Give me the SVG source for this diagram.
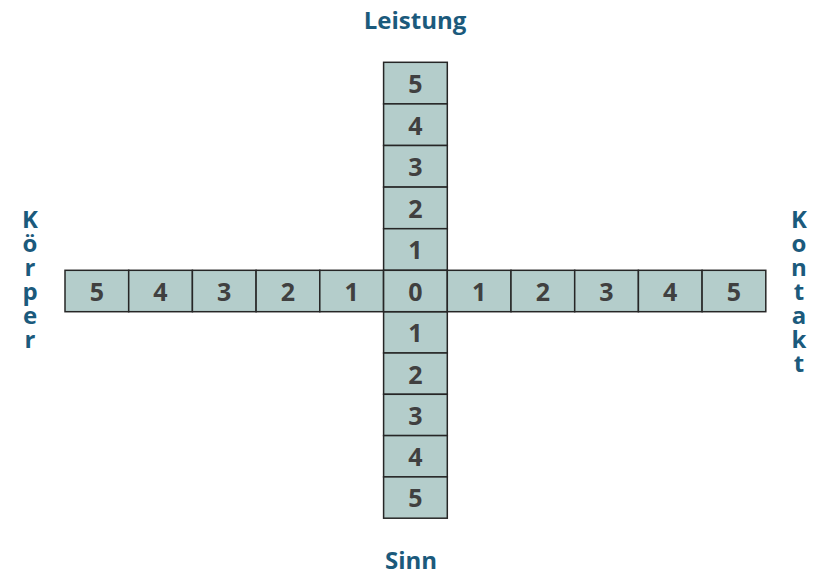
<svg xmlns="http://www.w3.org/2000/svg" width="819" height="574" viewBox="0 0 819 574">
<style>
.c{fill:#b4cdcb;stroke:#262626;stroke-width:1.5}
.n{font-family:"Open Sans","Liberation Sans",sans-serif;font-weight:bold;font-size:25px;fill:#404040;text-anchor:middle}
.l{font-family:"Open Sans","Liberation Sans",sans-serif;font-weight:bold;font-size:24px;fill:#1b5a7c;text-anchor:middle}
</style>
<rect width="819" height="574" fill="#fff"/>
<g id="vertical">
<rect class="c" x="383.6" y="62.3" width="63.7" height="41.6"/><text class="n" x="415.5" y="93">5</text>
<rect class="c" x="383.6" y="103.9" width="63.7" height="41.6"/><text class="n" x="415.5" y="135">4</text>
<rect class="c" x="383.6" y="145.5" width="63.7" height="41.6"/><text class="n" x="415.5" y="176">3</text>
<rect class="c" x="383.6" y="187.1" width="63.7" height="41.6"/><text class="n" x="415.5" y="218">2</text>
<rect class="c" x="383.6" y="228.7" width="63.7" height="41.6"/><text class="n" x="415.5" y="259">1</text>
<rect class="c" x="383.6" y="311.7" width="63.7" height="41.3"/><text class="n" x="415.5" y="342">1</text>
<rect class="c" x="383.6" y="353" width="63.7" height="41.3"/><text class="n" x="415.5" y="384">2</text>
<rect class="c" x="383.6" y="394.3" width="63.7" height="41.3"/><text class="n" x="415.5" y="425">3</text>
<rect class="c" x="383.6" y="435.6" width="63.7" height="41.3"/><text class="n" x="415.5" y="466">4</text>
<rect class="c" x="383.6" y="476.9" width="63.7" height="41.3"/><text class="n" x="415.5" y="507">5</text>
</g>
<g id="horizontal">
<rect class="c" x="65" y="270.3" width="63.7" height="41.4"/><text class="n" x="96.8" y="301">5</text>
<rect class="c" x="128.7" y="270.3" width="63.7" height="41.4"/><text class="n" x="160.5" y="301">4</text>
<rect class="c" x="192.4" y="270.3" width="63.7" height="41.4"/><text class="n" x="224.2" y="301">3</text>
<rect class="c" x="256.1" y="270.3" width="63.7" height="41.4"/><text class="n" x="287.9" y="301">2</text>
<rect class="c" x="319.8" y="270.3" width="63.7" height="41.4"/><text class="n" x="351.6" y="301">1</text>
<rect class="c" x="383.6" y="270.3" width="63.7" height="41.4"/><text class="n" x="415.5" y="301">0</text>
<rect class="c" x="447.3" y="270.3" width="63.7" height="41.4"/><text class="n" x="479.1" y="301">1</text>
<rect class="c" x="511" y="270.3" width="63.7" height="41.4"/><text class="n" x="542.8" y="301">2</text>
<rect class="c" x="574.7" y="270.3" width="63.7" height="41.4"/><text class="n" x="606.5" y="301">3</text>
<rect class="c" x="638.4" y="270.3" width="63.7" height="41.4"/><text class="n" x="670.2" y="301">4</text>
<rect class="c" x="702.1" y="270.3" width="63.7" height="41.4"/><text class="n" x="733.9" y="301">5</text>
</g>
<g id="label-leistung"><text class="l" x="415" y="29">Leistung</text></g>
<g id="label-sinn"><text class="l" x="411" y="569">Sinn</text></g>
<g id="label-koerper">
<text class="l" x="30" y="228">K</text>
<text class="l" x="30" y="252">ö</text>
<text class="l" x="30" y="276">r</text>
<text class="l" x="30" y="300">p</text>
<text class="l" x="30" y="324">e</text>
<text class="l" x="30" y="348">r</text>
</g>
<g id="label-kontakt">
<text class="l" x="799" y="228">K</text>
<text class="l" x="799" y="252">o</text>
<text class="l" x="799" y="276">n</text>
<text class="l" x="799" y="300">t</text>
<text class="l" x="799" y="324">a</text>
<text class="l" x="799" y="348">k</text>
<text class="l" x="799" y="372">t</text>
</g>
<g id="connectors"/>
</svg>
